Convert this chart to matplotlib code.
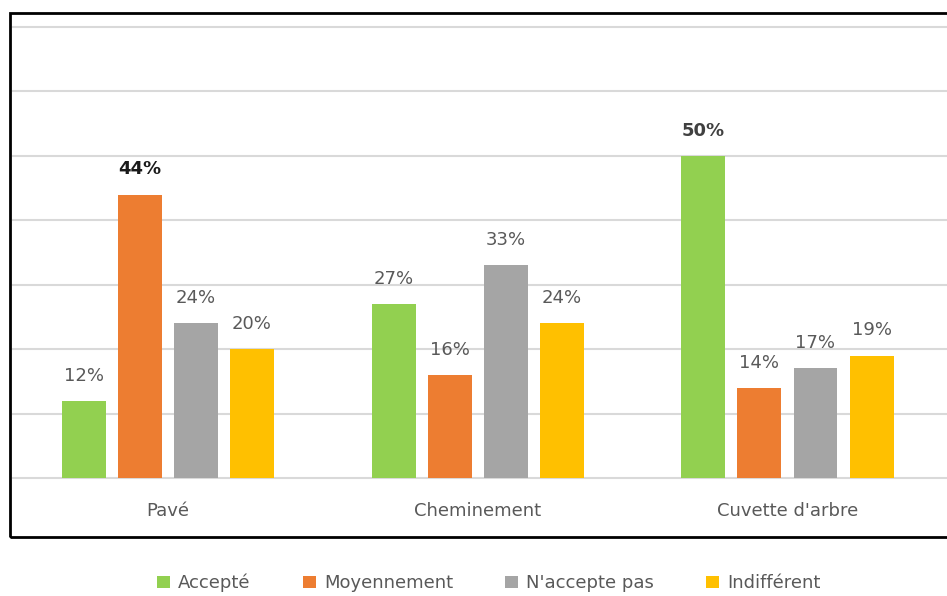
import matplotlib.pyplot as plt
from matplotlib.patches import Rectangle
import numpy as np

plt.rcParams['font.family'] = ['DejaVu Sans']

categories = ['Pavé', 'Cheminement', "Cuvette d'arbre"]
series = ['Accepté', 'Moyennement', "N'accepte pas", 'Indifférent']
accepte = [12, 27, 50]
moyennement = [44, 16, 14]
naccepte_pas = [24, 33, 17]
indifferent = [20, 24, 19]
values = [accepte, moyennement, naccepte_pas, indifferent]
colors = ['#92D050', '#ED7D31', '#A5A5A5', '#FFC000']
# labels shown in bold (group maxima highlighted)
bold_labels = {(1, 0): '#1a1a1a', (0, 2): '#404040'}

W, H = 947, 596
fig = plt.figure(figsize=(W / 100, H / 100), dpi=100)
ax = fig.add_axes([13 / W, 1 - 478 / H, 934 / W, (478 - 27) / H])

x = np.arange(len(categories))
pitch = 0.181
width = 0.142
fs = 13
for i, (name, vals, col) in enumerate(zip(series, values, colors)):
    pos = x + (i - 1.5) * pitch
    bars = ax.bar(pos, vals, width, color=col, label=name, zorder=3)
    for j, (b, v) in enumerate(zip(bars, vals)):
        bold = (i, j) in bold_labels
        ax.annotate(f'{v}%', (b.get_x() + b.get_width() / 2, v),
                    xytext=(0, 14.5), textcoords='offset points',
                    ha='center', va='baseline', fontsize=fs,
                    color=bold_labels.get((i, j), '#595959'),
                    fontweight='bold' if bold else 'normal')

ax.set_xlim(-0.5, 2.515)
ax.set_ylim(0, 70)
ax.set_yticks(np.arange(0, 71, 10))
ax.yaxis.grid(True, color='#d9d9d9', linewidth=1.5, zorder=0)
for gl in ax.get_ygridlines():
    gl.set_clip_on(False)
ax.tick_params(axis='y', left=False, labelleft=False)
ax.tick_params(axis='x', bottom=False, labelsize=fs, labelcolor='#595959', pad=14)
ax.set_xticks(x)
ax.set_xticklabels(categories)
for s in ax.spines.values():
    s.set_visible(False)

# chart area border
fig.patches.append(Rectangle((10 / W, 1 - 537 / H), 960 / W, (537 - 13) / H,
                             transform=fig.transFigure, fill=False,
                             edgecolor='black', linewidth=2))

fig.legend(loc='center', bbox_to_anchor=(489 / W, 1 - 583 / H), ncol=4,
           frameon=False, handlelength=0.7, handleheight=0.7,
           handletextpad=0.45, columnspacing=2.9, fontsize=fs,
           labelcolor='#595959')

fig.savefig('out.png', dpi=100)
